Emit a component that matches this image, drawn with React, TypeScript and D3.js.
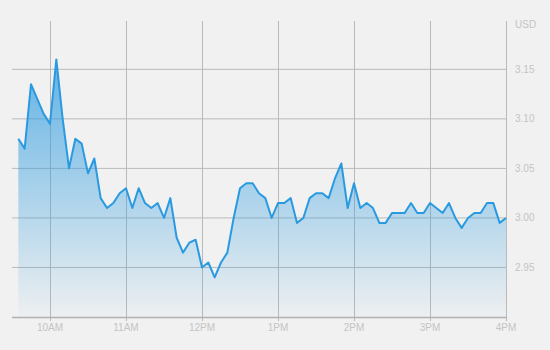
import React from "react";
import * as d3 from "d3";

const startTime = "09:35";
const stepMinutes = 5;
const prices = [
  3.08, 3.07, 3.135, 3.12, 3.105, 3.095, 3.16, 3.1, 3.05, 3.08,
  3.075, 3.045, 3.06, 3.02, 3.01, 3.015, 3.025, 3.03, 3.01, 3.03,
  3.015, 3.01, 3.015, 3.0, 3.02, 2.98, 2.965, 2.975, 2.978, 2.95,
  2.955, 2.94, 2.955, 2.965, 3.0, 3.03, 3.035, 3.035, 3.025, 3.02,
  3.0, 3.015, 3.015, 3.02, 2.995, 3.0, 3.02, 3.025, 3.025, 3.02,
  3.04, 3.055, 3.01, 3.035, 3.01, 3.015, 3.01, 2.995, 2.995, 3.005,
  3.005, 3.005, 3.015, 3.005, 3.005, 3.015, 3.01, 3.005, 3.015, 3.0,
  2.99, 3.0, 3.005, 3.005, 3.015, 3.015, 2.995, 3.0,
];
const yTicks = [2.95, 3.0, 3.05, 3.1, 3.15];
const xTickHours = [10, 11, 12, 13, 14, 15, 16];
const xTickLabels = ["10AM", "11AM", "12PM", "1PM", "2PM", "3PM", "4PM"];
const unitLabel = "USD";

const W = 550;
const H = 350;
const left = 12;
const right = 506;
const top = 21;
const bottom = 317;

function toMinutes(s: string) {
  const [h, m] = s.split(":").map(Number);
  return h * 60 + m;
}

export default function App() {
  const t0 = toMinutes(startTime);
  const data = prices.map((v, i) => ({ t: t0 + i * stepMinutes, v }));

  const x = d3.scaleLinear().domain([9 * 60 + 30, 16 * 60]).range([left, right]);
  const y = d3.scaleLinear().domain([2.9, 3.2]).range([bottom, 19.8]);

  const line = d3
    .line<{ t: number; v: number }>()
    .x((d) => x(d.t))
    .y((d) => y(d.v));
  const area = d3
    .area<{ t: number; v: number }>()
    .x((d) => x(d.t))
    .y0(bottom)
    .y1((d) => y(d.v));

  const maxY = y(d3.max(prices) as number);
  const font = "Liberation Sans, Arial, sans-serif";

  return (
    <svg
      width={W}
      height={H}
      style={{ position: "absolute", left: 0, top: 0, display: "block" }}
    >
      <defs>
        <linearGradient id="areaGrad" gradientUnits="userSpaceOnUse" x1={0} x2={0} y1={maxY} y2={bottom}>
          <stop offset="0" stopColor="#2a9ae0" stopOpacity={0.72} />
          <stop offset="1" stopColor="#2a9ae0" stopOpacity={0.02} />
        </linearGradient>
      </defs>
      <rect x={0} y={0} width={W} height={H} fill="#f1f1f1" />
      {yTicks.map((t) => (
        <line key={"h" + t} x1={left} x2={right} y1={y(t)} y2={y(t)} stroke="#bababa" strokeWidth={1} />
      ))}
      {xTickHours.map((h) => (
        <line
          key={"v" + h}
          x1={Math.round(x(h * 60)) + 0.5}
          x2={Math.round(x(h * 60)) + 0.5}
          y1={top}
          y2={bottom + 4}
          stroke="#bababa"
          strokeWidth={1}
        />
      ))}
      <path d={area(data) || ""} fill="url(#areaGrad)" />
      <path d={line(data) || ""} fill="none" stroke="#2a9ae0" strokeWidth={2} strokeLinejoin="round" />
      <line x1={left} x2={right + 0.5} y1={bottom + 0.5} y2={bottom + 0.5} stroke="#b0b0b0" strokeWidth={1.5} />
      {yTicks.map((t) => (
        <text
          key={"yl" + t}
          x={515}
          y={y(t)}
          dy="0.35em"
          fontSize={10}
          fontFamily={font}
          fill="#c4c4c4"
        >
          {t.toFixed(2)}
        </text>
      ))}
      <text x={515} y={24} dy="0.35em" fontSize={10} fontFamily={font} fill="#c4c4c4">
        {unitLabel}
      </text>
      {xTickHours.map((h, i) => (
        <text
          key={"xl" + h}
          x={x(h * 60)}
          y={331}
          textAnchor="middle"
          fontSize={10}
          fontFamily={font}
          fill="#c4c4c4"
        >
          {xTickLabels[i]}
        </text>
      ))}
    </svg>
  );
}
